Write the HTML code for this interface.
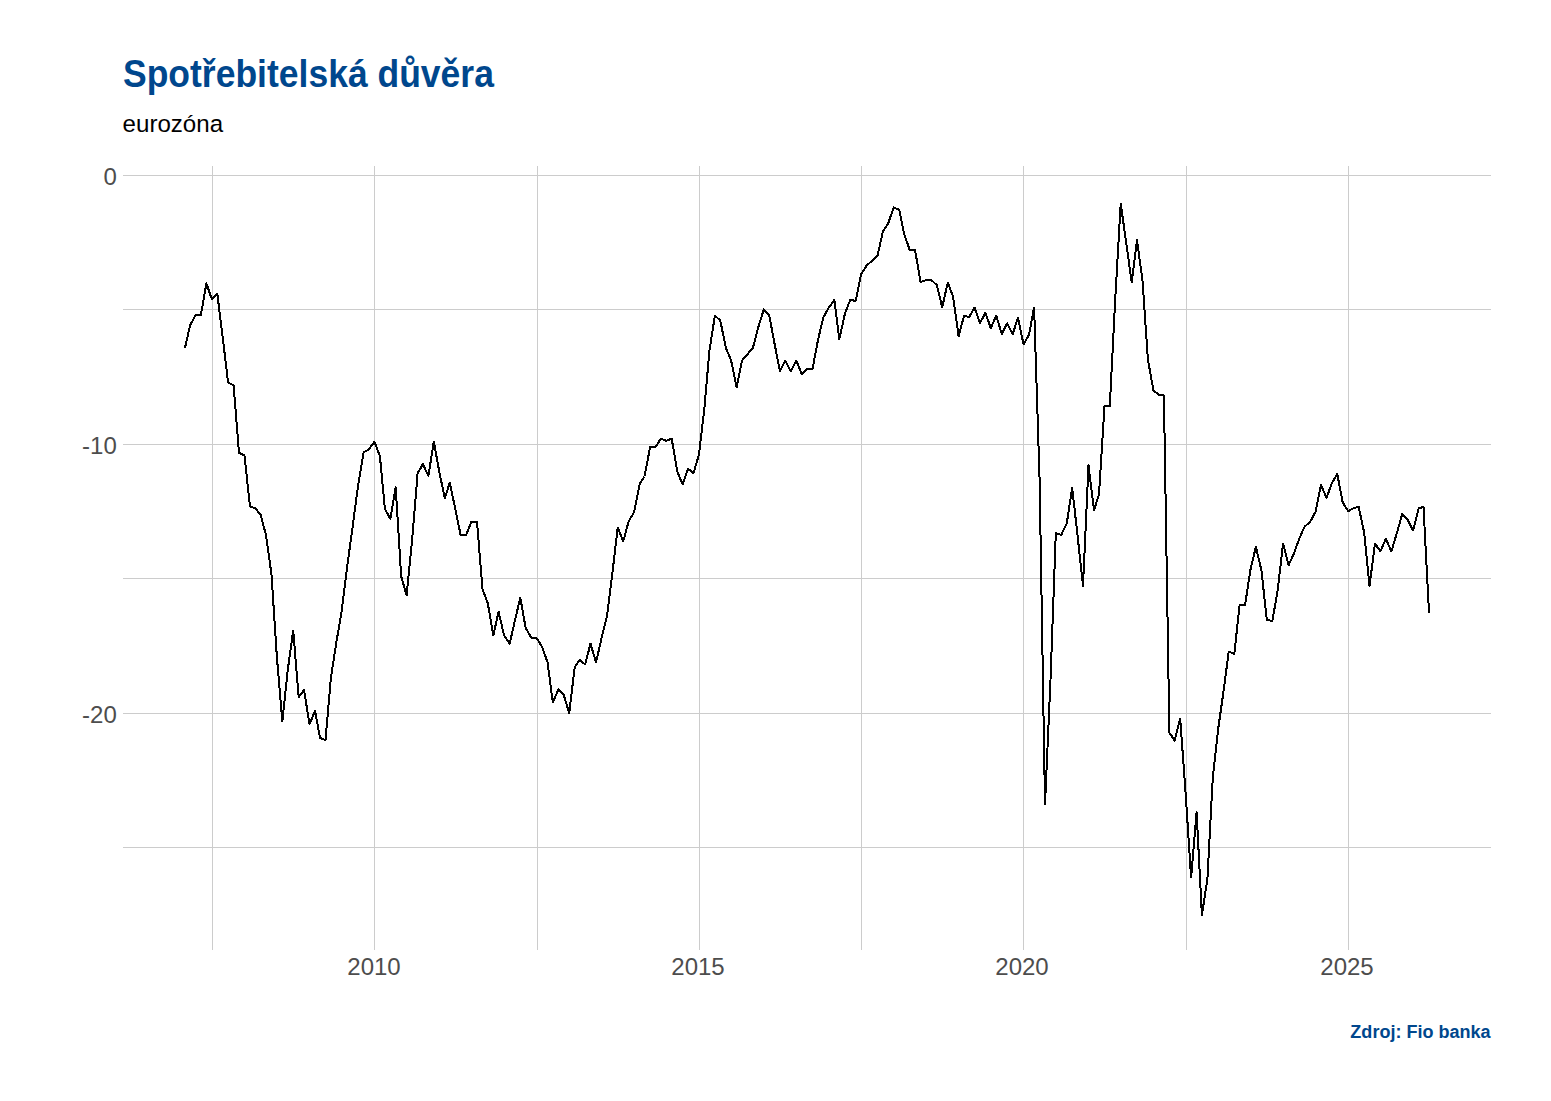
<!DOCTYPE html>
<html><head><meta charset="utf-8"><title>Spotřebitelská důvěra</title>
<style>
html,body{margin:0;padding:0;background:#fff;}
body{width:1551px;height:1101px;position:relative;overflow:hidden;font-family:"Liberation Sans",sans-serif;}
.t{position:absolute;white-space:nowrap;line-height:1;}
#title{left:123px;top:55.6px;font-size:35.5px;font-weight:bold;color:#00478d;transform:scaleY(1.075);transform-origin:0 0;}
#sub{left:122.6px;top:111.7px;font-size:24.1px;color:#000;}
.ax{font-size:24px;color:#4d4d4d;}
.yl{text-align:right;width:100px;left:16.8px;}
.xl{text-align:center;width:100px;}
#cap{right:60.4px;top:1023.3px;font-size:18.05px;font-weight:bold;color:#00478d;transform:scaleY(1.04);transform-origin:0 100%;}
svg{position:absolute;left:0;top:0;}
</style></head><body>
<svg width="1551" height="1101" viewBox="0 0 1551 1101">
<g stroke="#cccccc" stroke-width="1" shape-rendering="crispEdges"><line x1="123" x2="1491" y1="175.5" y2="175.5"/><line x1="123" x2="1491" y1="309.5" y2="309.5"/><line x1="123" x2="1491" y1="444.5" y2="444.5"/><line x1="123" x2="1491" y1="578.5" y2="578.5"/><line x1="123" x2="1491" y1="713.5" y2="713.5"/><line x1="123" x2="1491" y1="847.5" y2="847.5"/><line y1="166" y2="950" x1="212.5" x2="212.5"/><line y1="166" y2="950" x1="374.5" x2="374.5"/><line y1="166" y2="950" x1="537.5" x2="537.5"/><line y1="166" y2="950" x1="699.5" x2="699.5"/><line y1="166" y2="950" x1="861.5" x2="861.5"/><line y1="166" y2="950" x1="1023.5" x2="1023.5"/><line y1="166" y2="950" x1="1186.5" x2="1186.5"/><line y1="166" y2="950" x1="1348.5" x2="1348.5"/></g>
<polyline fill="none" stroke="#000" stroke-width="2" stroke-linejoin="round" stroke-linecap="round" shape-rendering="crispEdges" points="185.1,347.4 190.1,325.4 195.6,314.9 200.9,314.9 206.4,283.4 211.8,299.1 217.3,293.7 222.8,338.1 228.1,382.6 233.6,385.3 239.0,452.9 244.5,455.5 250.0,506.6 255.1,508.1 260.7,514.8 266.0,535.2 271.5,574.5 276.8,656.0 282.3,721.5 287.8,669.7 293.2,630.5 298.7,697.2 304.0,689.8 309.5,724.3 315.0,710.7 320.0,737.8 325.5,740.1 330.9,678.0 336.4,642.0 341.7,611.0 347.2,566.4 352.7,526.2 358.0,486.0 363.6,452.4 368.9,449.3 374.4,441.6 379.9,456.0 384.9,508.9 390.4,519.0 395.7,487.4 401.2,576.5 406.6,595.4 412.1,540.0 417.6,473.4 422.9,464.1 428.4,476.0 433.8,441.7 439.3,471.8 444.8,498.1 449.8,482.7 455.3,509.0 460.6,534.8 466.1,534.8 471.4,521.8 477.0,521.8 482.5,589.4 487.8,603.3 493.3,635.4 498.6,611.8 504.1,635.4 509.7,643.6 514.8,621.1 520.3,597.6 525.6,627.6 531.2,637.8 536.5,637.8 542.0,646.7 547.5,662.1 552.8,702.4 558.4,689.5 563.7,694.6 569.2,713.2 574.7,667.2 579.7,659.8 585.2,664.5 590.5,643.6 596.0,662.4 601.4,638.9 606.9,616.5 612.4,573.0 617.7,527.5 623.2,541.5 628.6,521.5 634.1,512.1 639.6,484.2 644.5,476.5 650.1,447.1 655.4,447.1 660.9,438.6 666.2,440.9 671.7,438.6 677.3,471.8 682.6,484.2 688.1,468.7 693.4,473.4 698.9,455.0 704.4,408.0 709.4,351.0 714.9,315.6 720.3,320.5 725.8,347.6 731.1,360.5 736.6,387.2 742.1,360.5 747.5,354.3 753.0,347.6 758.3,327.2 763.8,309.4 769.3,315.6 774.5,343.4 780.0,371.3 785.3,360.5 790.8,371.3 796.2,360.5 801.7,373.9 807.2,369.0 812.5,369.0 818.0,340.0 823.3,317.5 828.9,307.5 834.4,299.8 839.3,339.3 844.9,313.8 850.2,299.9 855.7,300.9 861.0,274.3 866.5,265.8 872.0,260.7 877.4,256.1 882.9,231.5 888.2,223.3 893.7,207.5 899.2,209.8 904.2,234.1 909.7,249.9 915.1,250.3 920.6,282.1 925.9,280.1 931.4,280.1 936.9,285.2 942.2,307.3 947.8,282.5 953.1,296.8 958.6,336.2 964.1,315.6 969.1,317.2 974.6,307.6 979.9,323.4 985.4,312.7 990.8,328.2 996.3,315.6 1001.8,334.2 1007.1,323.4 1012.6,334.2 1018.0,317.7 1023.5,344.3 1029.0,334.7 1034.1,307.4 1039.6,480.0 1045.0,804.5 1050.5,680.0 1055.8,533.3 1061.3,534.8 1066.8,523.2 1072.2,487.8 1077.7,537.0 1083.0,585.9 1088.5,465.3 1094.0,510.0 1099.0,494.7 1104.5,406.5 1109.8,405.8 1115.4,296.0 1120.7,203.6 1126.2,242.7 1131.7,282.4 1137.0,240.3 1142.5,280.6 1147.9,359.5 1153.4,390.3 1158.9,394.9 1163.9,395.4 1169.4,732.7 1174.7,740.5 1180.2,718.5 1185.6,793.0 1191.1,877.4 1196.6,812.5 1201.9,915.2 1207.4,878.9 1212.8,777.0 1218.3,728.1 1223.8,689.4 1228.7,651.6 1234.3,654.0 1239.6,605.0 1245.1,604.8 1250.4,569.9 1255.9,546.7 1261.5,570.7 1266.8,620.0 1272.3,621.0 1277.6,590.8 1283.1,543.6 1288.6,565.3 1293.8,553.7 1299.3,538.5 1304.6,526.6 1310.1,522.0 1315.5,511.9 1321.0,484.8 1326.5,498.0 1331.8,483.3 1337.3,474.0 1342.7,502.5 1348.2,511.1 1353.7,508.0 1358.7,506.9 1364.2,532.8 1369.5,586.2 1375.0,543.6 1380.4,551.4 1385.9,538.7 1391.4,551.4 1396.7,533.6 1402.2,514.2 1407.5,519.6 1413.1,530.5 1418.6,508.5 1423.5,506.9 1429.0,612.5"/>
</svg>
<div class="t" id="title">Spotřebitelská důvěra</div>
<div class="t" id="sub">eurozóna</div>
<div class="t ax yl" style="top:164.6px">0</div>
<div class="t ax yl" style="top:433.7px">-10</div>
<div class="t ax yl" style="top:702.7px">-20</div>
<div class="t ax xl" style="left:324px;top:954.7px">2010</div>
<div class="t ax xl" style="left:648px;top:954.7px">2015</div>
<div class="t ax xl" style="left:972px;top:954.7px">2020</div>
<div class="t ax xl" style="left:1297px;top:954.7px">2025</div>
<div class="t" id="cap">Zdroj: Fio banka</div>
</body></html>
